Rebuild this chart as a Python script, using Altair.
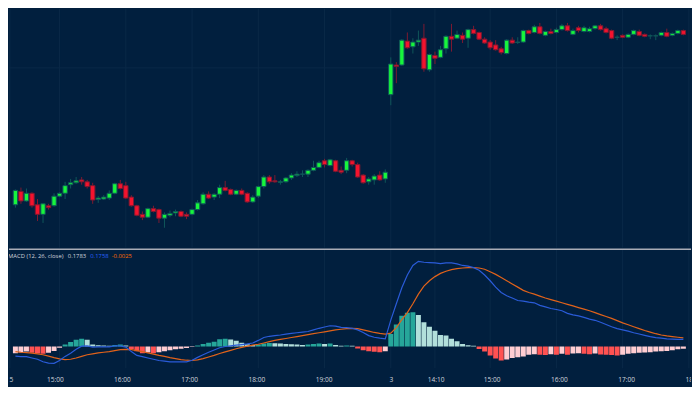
import altair as alt
import pandas as pd

BG = "#011f3e"
GRID = "#0a2947"
W = 684
H_TOP = 240
H_MACD = 120
H_LAB = 18

candle_open = [9.5, 10.9, 9.9, 10.7, 9.5, 8.5, 9.4, 9.4, 10.4, 10.7,
               11.6, 11.8, 12.1, 11.9, 11.5, 10.05, 10.1, 10.2, 10.7, 11.7,
               11.5, 10.3, 9.4, 8.5, 8.2, 9.1, 9.0, 8.1, 8.4, 8.65,
               8.8, 8.5, 8.5, 9.0, 9.6, 10.6, 10.3, 10.6, 11.3, 11.1,
               10.6, 11.0, 10.7, 9.8, 10.4, 11.4, 12.4, 12.0, 11.85, 11.9,
               12.3, 12.55, 12.7, 12.7, 13.1, 13.4, 14.1, 13.6, 14.1, 13.1,
               13.1, 14.1, 13.7, 12.6, 11.9, 12.1, 12.6, 12.2, 21.0, 24.1,
               24.1, 26.6, 26.0, 26.5, 26.9, 23.6, 25.1, 24.9, 25.8, 27.1,
               26.9, 27.2, 26.9, 27.8, 27.5, 26.8, 26.5, 26.2, 25.8, 25.3,
               26.7, 26.45, 26.5, 27.7, 27.5, 28.1, 27.2, 27.6, 27.5, 27.8,
               28.2, 27.3, 28.0, 27.6, 27.6, 27.9, 28.2, 27.9, 27.7, 27.0,
               27.2, 27.0, 27.3, 27.6, 27.3, 27.15, 27.15, 27.2, 27.5, 27.2,
               27.4, 27.7]
candle_close = [11.0, 9.9, 10.7, 9.4, 8.5, 9.6, 9.2, 10.4, 10.7, 11.5,
                11.8, 12.0, 11.9, 11.4, 10.0, 10.2, 10.3, 10.7, 11.7, 11.2,
                10.2, 9.4, 8.4, 8.2, 9.1, 8.8, 8.1, 8.5, 8.6, 8.8,
                8.3, 8.3, 9.0, 9.7, 10.6, 10.2, 10.6, 11.3, 11.0, 10.6,
                11.0, 10.6, 9.8, 10.3, 11.4, 12.4, 11.9, 11.9, 11.9, 12.3,
                12.6, 12.7, 12.7, 13.1, 13.4, 13.9, 13.7, 14.2, 13.0, 12.9,
                14.1, 13.7, 12.4, 11.8, 12.2, 12.5, 12.1, 12.9, 24.2, 23.95,
                26.7, 25.9, 26.5, 26.7, 23.7, 25.2, 24.8, 25.7, 27.1, 26.8,
                27.3, 26.8, 27.8, 27.4, 26.8, 26.4, 25.9, 25.7, 25.4, 26.7,
                26.4, 26.5, 27.7, 27.4, 28.1, 27.4, 27.6, 27.4, 27.8, 28.2,
                27.7, 27.7, 27.7, 28.0, 27.9, 28.2, 27.8, 27.5, 26.9, 27.0,
                27.0, 27.3, 27.7, 27.2, 27.1, 27.15, 27.15, 27.5, 27.1, 27.4,
                27.7, 27.3]
candle_high = [11.1, 11.3, 11.2, 10.8, 10.1, 9.6, 9.6, 10.7, 10.8, 11.9,
               12.2, 12.4, 12.4, 12.1, 11.8, 10.4, 10.5, 11.0, 11.8, 12.1,
               11.9, 10.5, 9.5, 8.8, 9.2, 9.4, 9.1, 8.7, 8.9, 9.0,
               8.9, 8.7, 9.1, 10.0, 10.8, 10.9, 10.7, 11.6, 12.0, 11.2,
               11.1, 11.2, 10.8, 10.5, 11.5, 12.6, 12.6, 12.6, 12.1, 12.4,
               12.8, 13.0, 13.1, 13.2, 14.1, 14.1, 14.3, 14.3, 14.2, 13.5,
               14.4, 14.2, 13.9, 12.7, 12.4, 12.7, 13.0, 13.2, 24.9, 24.4,
               26.8, 27.5, 26.9, 27.7, 28.4, 25.3, 25.5, 26.1, 27.2, 28.4,
               27.7, 27.5, 27.9, 28.2, 27.6, 27.0, 26.7, 26.7, 26.0, 26.8,
               27.0, 27.0, 27.8, 27.8, 28.3, 28.5, 27.7, 27.9, 28.0, 28.4,
               28.5, 27.9, 28.2, 28.2, 28.1, 28.3, 28.4, 28.1, 27.8, 27.2,
               27.3, 27.4, 27.8, 27.8, 27.4, 27.3, 27.3, 27.6, 27.9, 27.5,
               27.8, 27.8]
candle_low = [9.2, 9.6, 9.8, 9.2, 7.8, 7.6, 9.0, 9.3, 10.3, 10.1,
              11.2, 11.7, 11.6, 11.2, 9.6, 9.7, 10.0, 10.0, 10.6, 11.1,
              10.1, 9.3, 8.3, 7.9, 8.1, 8.7, 7.6, 7.1, 8.2, 8.3,
              8.2, 8.0, 8.4, 8.9, 9.5, 10.1, 10.0, 10.2, 10.9, 10.5,
              10.5, 10.5, 9.7, 9.7, 10.2, 11.2, 11.7, 11.8, 11.6, 11.8,
              12.1, 12.4, 12.4, 12.4, 13.0, 13.3, 13.4, 13.5, 12.9, 12.7,
              12.8, 13.5, 12.3, 11.7, 11.6, 11.6, 12.0, 11.8, 19.9, 22.2,
              24.0, 25.8, 25.3, 26.1, 23.4, 23.4, 24.2, 24.8, 25.3, 25.5,
              26.8, 26.4, 25.9, 27.3, 26.7, 26.3, 25.7, 25.6, 25.2, 25.2,
              26.3, 26.3, 26.4, 27.3, 27.4, 27.3, 27.1, 27.3, 27.4, 27.7,
              27.6, 27.2, 27.5, 27.5, 27.5, 27.8, 27.7, 27.4, 26.8, 26.7,
              26.9, 26.9, 27.2, 27.1, 27.0, 26.8, 26.7, 27.1, 27.0, 27.1,
              27.3, 27.2]

macd_line = [-0.2, -0.213, -0.213, -0.24, -0.267, -0.32, -0.347, -0.353, -0.293, -0.207,
             -0.14, -0.06, 0.007, 0.013, -0.013, -0.007, -0.007, -0.007, 0.013, 0.013,
             -0.013, -0.107, -0.187, -0.213, -0.24, -0.267, -0.293, -0.307, -0.32, -0.32,
             -0.32, -0.32, -0.287, -0.227, -0.173, -0.12, -0.073, -0.027, 0.0, 0.013,
             0.027, 0.04, 0.053, 0.073, 0.127, 0.187, 0.213, 0.227, 0.24, 0.26,
             0.273, 0.287, 0.3, 0.313, 0.347, 0.38, 0.407, 0.433, 0.427, 0.4,
             0.393, 0.38, 0.347, 0.293, 0.227, 0.193, 0.173, 0.16, 0.55, 0.893,
             1.227, 1.493, 1.693, 1.78, 1.76, 1.753, 1.747, 1.733, 1.747, 1.747,
             1.727, 1.693, 1.68, 1.647, 1.593, 1.493, 1.373, 1.24, 1.127, 1.06,
             1.013, 0.96, 0.947, 0.927, 0.913, 0.86, 0.827, 0.793, 0.773, 0.747,
             0.693, 0.66, 0.64, 0.607, 0.573, 0.547, 0.507, 0.46, 0.413, 0.373,
             0.347, 0.32, 0.287, 0.26, 0.233, 0.207, 0.187, 0.173, 0.16, 0.153,
             0.147, 0.147]
signal_line = [-0.107, -0.12, -0.127, -0.14, -0.153, -0.173, -0.2, -0.233, -0.26, -0.273,
               -0.267, -0.24, -0.207, -0.173, -0.153, -0.133, -0.12, -0.107, -0.087, -0.067,
               -0.06, -0.067, -0.087, -0.107, -0.133, -0.16, -0.187, -0.207, -0.233, -0.253,
               -0.273, -0.287, -0.293, -0.28, -0.253, -0.22, -0.187, -0.147, -0.113, -0.08,
               -0.047, -0.02, 0.007, 0.027, 0.047, 0.073, 0.1, 0.127, 0.147, 0.167,
               0.187, 0.207, 0.227, 0.247, 0.267, 0.287, 0.307, 0.327, 0.347, 0.36,
               0.375, 0.38, 0.373, 0.347, 0.32, 0.293, 0.273, 0.26, 0.28, 0.393,
               0.56, 0.707, 0.893, 1.093, 1.26, 1.373, 1.46, 1.527, 1.573, 1.607,
               1.627, 1.64, 1.647, 1.647, 1.64, 1.613, 1.56, 1.507, 1.44, 1.373,
               1.307, 1.24, 1.173, 1.127, 1.093, 1.053, 1.013, 0.98, 0.947, 0.913,
               0.88, 0.847, 0.813, 0.78, 0.747, 0.707, 0.667, 0.627, 0.587, 0.54,
               0.493, 0.453, 0.413, 0.373, 0.333, 0.3, 0.267, 0.24, 0.22, 0.207,
               0.193, 0.18]
histogram = [-0.14, -0.127, -0.107, -0.133, -0.147, -0.153, -0.133, -0.093, -0.027, 0.04,
             0.093, 0.14, 0.16, 0.14, 0.04, 0.027, 0.02, 0.013, 0.033, 0.04,
             0.02, -0.06, -0.1, -0.14, -0.127, -0.14, -0.12, -0.1, -0.08, -0.06,
             -0.045, -0.03, -0.01, 0.02, 0.05, 0.08, 0.1, 0.15, 0.16, 0.147,
             0.12, 0.08, 0.047, 0.033, 0.04, 0.06, 0.073, 0.067, 0.06, 0.053,
             0.047, 0.04, 0.033, 0.04, 0.053, 0.06, 0.053, 0.06, 0.033, 0.013,
             0.02, 0.013, -0.04, -0.08, -0.1, -0.11, -0.12, -0.1, 0.26, 0.46,
             0.64, 0.707, 0.713, 0.66, 0.507, 0.413, 0.327, 0.24, 0.227, 0.16,
             0.107, 0.053, 0.027, 0.013, -0.053, -0.107, -0.187, -0.253, -0.293, -0.273,
             -0.24, -0.227, -0.207, -0.173, -0.16, -0.173, -0.18, -0.16, -0.173, -0.153,
             -0.173, -0.147, -0.14, -0.153, -0.16, -0.147, -0.167, -0.173, -0.18, -0.187,
             -0.173, -0.153, -0.14, -0.133, -0.127, -0.12, -0.107, -0.1, -0.093, -0.08,
             -0.06, -0.047]

tick_index = [-1, 8, 20, 32, 44, 56, 68, 76, 86, 98, 110, 122]
tick_labels = ["14:15", "15:00", "16:00", "17:00", "18:00", "19:00", "3",
               "14:10", "15:00", "16:00", "17:00", "18:00"]
price_grid = [23.8]
legend_texts = ["MACD (12, 26, close)", "0.1783", "0.1758", "-0.0025"]
legend_colors = ["#d1d4dc", "#d1d4dc", "#2962ff", "#ff6d00"]
legend_left = [-1, 59, 81.5, 103]  # pixel layout of the legend pieces

# ---- tables ----
n = len(candle_open)
df = pd.DataFrame({
    "i": list(range(n)),
    "open": candle_open, "close": candle_close,
    "high": candle_high, "low": candle_low,
})
df["dir"] = ["up" if c >= o else "down" for o, c in zip(candle_open, candle_close)]

hcat = []
for k, h in enumerate(histogram):
    prev = histogram[k - 1] if k > 0 else None
    if h >= 0:
        hcat.append("pos_grow" if (prev is None or h > prev) else "pos_fall")
    else:
        hcat.append("neg_fall" if (prev is not None and h < prev) else "neg_rise")
mdf = pd.DataFrame({"i": list(range(n)), "macd": macd_line, "signal": signal_line,
                    "hist": histogram, "hcat": hcat})
ticks = pd.DataFrame({"i": tick_index, "label": tick_labels})
pgrid = pd.DataFrame({"p": price_grid})
legdf = pd.DataFrame({"t": legend_texts, "c": legend_colors, "lx": legend_left})

xscale = alt.Scale(domain=[-0.26, 121.48], nice=False, zero=False)
X = alt.X("i:Q", scale=xscale, axis=None)
yscale = alt.Scale(domain=[5, 30], nice=False, zero=False)
mscale = alt.Scale(domain=[-0.46, 2.04], nice=False, zero=False)

FONT = "Open Sans"

# ---- top: candles ----
vgrid_top = alt.Chart(ticks).mark_rule(color=GRID, strokeWidth=1, clip=True).encode(x=X)
hgrid_top = alt.Chart(pgrid).mark_rule(color=GRID, strokeWidth=1, clip=True).encode(
    y=alt.Y("p:Q", scale=yscale, axis=None))
stroke_scale = alt.Scale(domain=["up", "down"], range=["#0f5659", "#7d1a31"])
fill_scale = alt.Scale(domain=["up", "down"], range=["#17f53c", "#f3132e"])
wicks = alt.Chart(df).mark_rule(strokeWidth=1, clip=True).encode(
    x=X,
    y=alt.Y("low:Q", scale=yscale, axis=None), y2="high:Q",
    stroke=alt.Stroke("dir:N", scale=stroke_scale, legend=None),
)
bodies = alt.Chart(df).mark_bar(size=4.4, strokeWidth=1, clip=True).encode(
    x=X,
    y=alt.Y("open:Q", scale=yscale, axis=None), y2="close:Q",
    fill=alt.Fill("dir:N", scale=fill_scale, legend=None),
    stroke=alt.Stroke("dir:N", scale=stroke_scale, legend=None),
)
top = alt.layer(vgrid_top, hgrid_top, wicks, bodies).properties(width=W, height=H_TOP)

# ---- MACD panel ----
vgrid_m = alt.Chart(ticks).mark_rule(color=GRID, strokeWidth=1, clip=True).encode(x=X)
hist_scale = alt.Scale(domain=["pos_grow", "pos_fall", "neg_fall", "neg_rise"],
                       range=["#26a69a", "#b2dfdb", "#ff5252", "#ffcdd2"])
hist = alt.Chart(mdf).mark_bar(size=5.0, clip=True).encode(
    x=X,
    y=alt.Y("hist:Q", scale=mscale, axis=None), y2=alt.datum(0),
    fill=alt.Fill("hcat:N", scale=hist_scale, legend=None),
)
sig = alt.Chart(mdf).mark_line(color="#e0621a", strokeWidth=1.2, clip=True).encode(
    x=X, y=alt.Y("signal:Q", scale=mscale, axis=None))
mac = alt.Chart(mdf).mark_line(color="#2a5bd8", strokeWidth=1.2, clip=True).encode(
    x=X, y=alt.Y("macd:Q", scale=mscale, axis=None))
sep = alt.Chart(ticks.head(1)).mark_rule(color="#a9acb6", strokeWidth=1.5).encode(
    x=alt.value(0), x2=alt.value(W), y=alt.value(0.5))
leg = alt.Chart(legdf).mark_text(fontSize=5.9, font=FONT, align="left",
                                 baseline="middle", clip=True).encode(
    x=alt.X("lx:Q", scale=None), y=alt.value(7.2), text="t:N",
    color=alt.Color("c:N", scale=None, legend=None))
macd_panel = alt.layer(vgrid_m, hist, sig, mac, sep, leg).properties(
    width=W, height=H_MACD)

# ---- time labels ----
labels = alt.Chart(ticks).mark_text(fontSize=6.6, font=FONT, color="#d1d4dc",
                                    baseline="middle", align="center", clip=True).encode(
    x=X, y=alt.value(11.5), text="label:N").properties(width=W, height=H_LAB)

chart = alt.vconcat(top, macd_panel, labels, spacing=0).properties(
    padding=0, background=BG
).resolve_scale(fill="independent", stroke="independent", color="independent",
                x="independent").configure_view(strokeWidth=0)

chart.save("out.html", embed_options={"renderer": "svg", "actions": False})
